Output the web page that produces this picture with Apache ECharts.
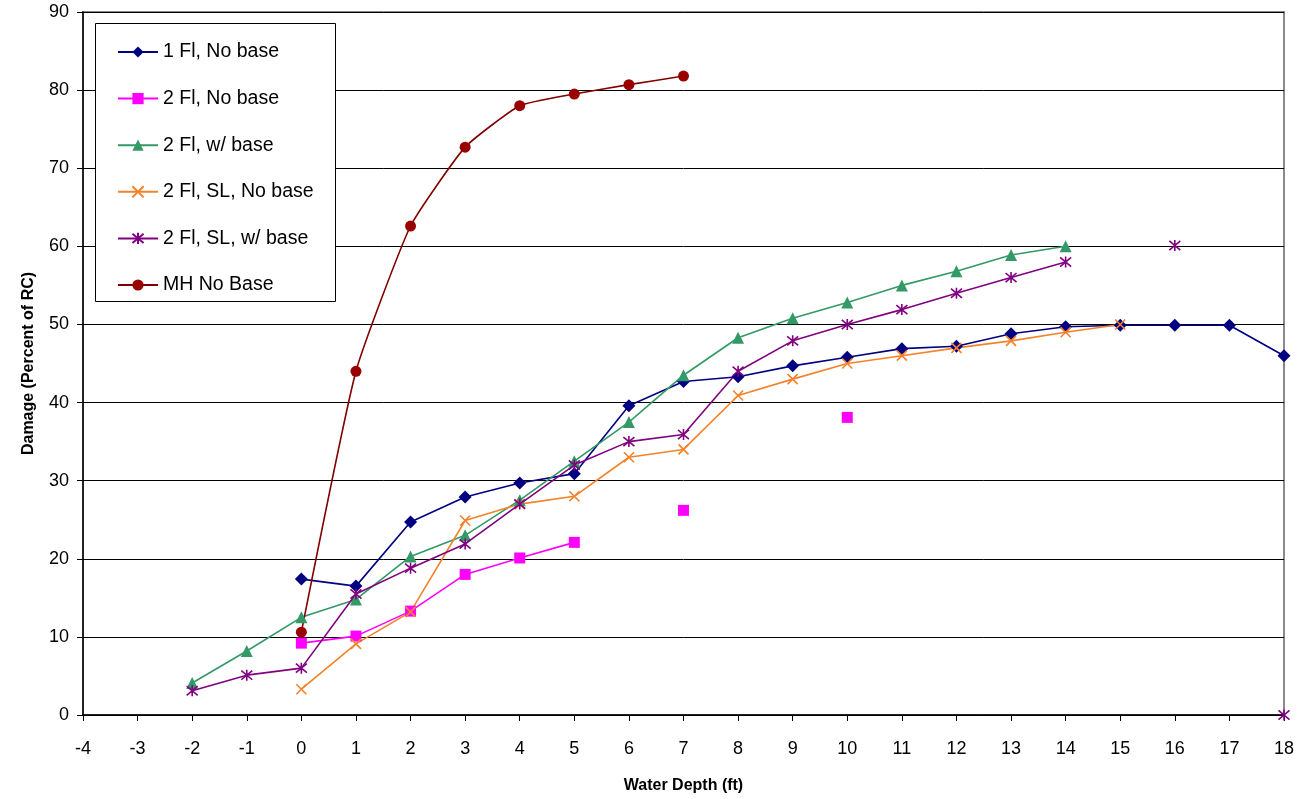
<!DOCTYPE html>
<html><head><meta charset="utf-8">
<script src="https://cdn.jsdelivr.net/npm/echarts@6/dist/echarts.min.js"></script>
<style>html,body{margin:0;padding:0;background:#fff}#c{width:1303px;height:799px}</style>
</head><body><div id="c"></div>
<script>
const depths = [-4,-3,-2,-1,0,1,2,3,4,5,6,7,8,9,10,11,12,13,14,15,16,17,18];
const yTicks = [0,10,20,30,40,50,60,70,80,90];
// values aligned to depths; null = no data
const fl1NoBase   = [null,null,null,null,17.4,16.5,24.7,27.9,29.7,30.9,39.6,42.7,43.3,44.7,45.8,46.9,47.2,48.8,49.7,49.9,49.9,49.9,46.0];
const fl2NoBase   = [null,null,null,null,9.2,10.1,13.3,18.0,20.1,22.1,null,26.2,null,null,38.1,null,null,null,null,null,null,null,null];
const fl2WBase    = [null,null,4.1,8.2,12.5,14.8,20.3,23.0,27.5,32.5,37.5,43.5,48.3,50.8,52.8,55.0,56.8,58.9,60.0,null,null,null,null];
const fl2SLNoBase = [null,null,null,null,3.3,9.1,13.2,24.9,27.0,28.0,33.0,34.0,40.9,43.0,45.0,46.0,47.0,47.9,49.0,50.0,null,null,null];
const fl2SLWBase  = [null,null,3.1,5.1,6.0,15.5,18.8,21.9,27.0,32.0,35.0,35.9,44.0,47.9,50.0,51.9,54.0,56.0,58.0,null,60.1,null,0];
const mhNoBase    = [null,null,null,null,10.6,44.0,62.6,72.7,78.0,79.5,80.7,81.8,null,null,null,null,null,null,null,null,null,null,null];

const FONT = 'Liberation Sans, Arial, sans-serif';
const xSym = 'path://M0,0L10,10M10,0L0,10';
const starSym = 'path://M0,0L10,10M10,0L0,10M5,-1L5,11';

function mk(name, data, color, lineColor, symbol, size, stroke, extra) {
  return Object.assign({
    name, type: 'line', data, connectNulls: false,
    symbol, symbolSize: size, showSymbol: true,
    lineStyle: { color: lineColor, width: 1.6 },
    itemStyle: stroke ? { color: 'none', borderColor: color, borderWidth: 1.6 } : { color: color, borderWidth: 0 },
    emphasis: { disabled: true },
    animation: false
  }, extra || {});
}

const chart = echarts.init(document.getElementById('c'));
chart.setOption({
  backgroundColor: '#fff',
  animation: false,
  grid: { left: 83, right: 19, top: 12, bottom: 83, show: true, borderColor: '#8a8a8a', borderWidth: 2, backgroundColor: 'transparent' },
  graphic: [{ type: 'rect', left: 95, top: 23, shape: { width: 240, height: 278 }, style: { fill: '#fff', stroke: '#000', lineWidth: 1 }, z: 50 }],
  legend: {
    orient: 'vertical', left: 112, top: 37, itemGap: 26.6, itemWidth: 40, itemHeight: 14,
    textStyle: { fontFamily: FONT, fontSize: 19.5, color: '#000', lineHeight: 18 }, z: 60,
    data: ['1 Fl, No base','2 Fl, No base','2 Fl, w/ base','2 Fl, SL, No base','2 Fl, SL, w/ base','MH No Base']
  },
  xAxis: {
    type: 'category', data: depths.map(String), boundaryGap: false,
    name: 'Water Depth (ft)', nameLocation: 'middle', nameGap: 63,
    nameTextStyle: { fontFamily: FONT, fontSize: 16, fontWeight: 'bold', color: '#000' },
    axisLine: { lineStyle: { color: '#000', width: 1.5 } },
    axisTick: { show: true, length: 6, lineStyle: { color: '#000' } },
    axisLabel: { fontFamily: FONT, fontSize: 18, color: '#000', margin: 25, interval: 0 },
    splitLine: { show: false }
  },
  yAxis: {
    type: 'value', min: yTicks[0], max: yTicks[yTicks.length-1], interval: 10,
    name: 'Damage (Percent of RC)', nameLocation: 'middle', nameGap: 46,
    nameTextStyle: { fontFamily: FONT, fontSize: 16, fontWeight: 'bold', color: '#000' },
    axisLine: { show: true, lineStyle: { color: '#000', width: 1.5 } },
    axisTick: { show: true, length: 6, lineStyle: { color: '#000' } },
    axisLabel: { fontFamily: FONT, fontSize: 18, color: '#000', margin: 14 },
    splitLine: { show: true, lineStyle: { color: '#000', width: 1 } }
  },
  series: [
    mk('1 Fl, No base', fl1NoBase, '#000080', '#000080', 'diamond', 13, false),
    mk('2 Fl, No base', fl2NoBase, '#ff00ff', '#ff00ff', 'rect', 11, false),
    mk('2 Fl, w/ base', fl2WBase, '#339966', '#339966', 'triangle', 12, false),
    mk('2 Fl, SL, No base', fl2SLNoBase, '#f5822a', '#f5822a', xSym, 10, true),
    mk('2 Fl, SL, w/ base', fl2SLWBase, '#800080', '#800080', starSym, 11, true),
    mk('MH No Base', mhNoBase, '#990000', '#800000', 'circle', 11, false, { smooth: 0.15 })
  ]
});
</script></body></html>
